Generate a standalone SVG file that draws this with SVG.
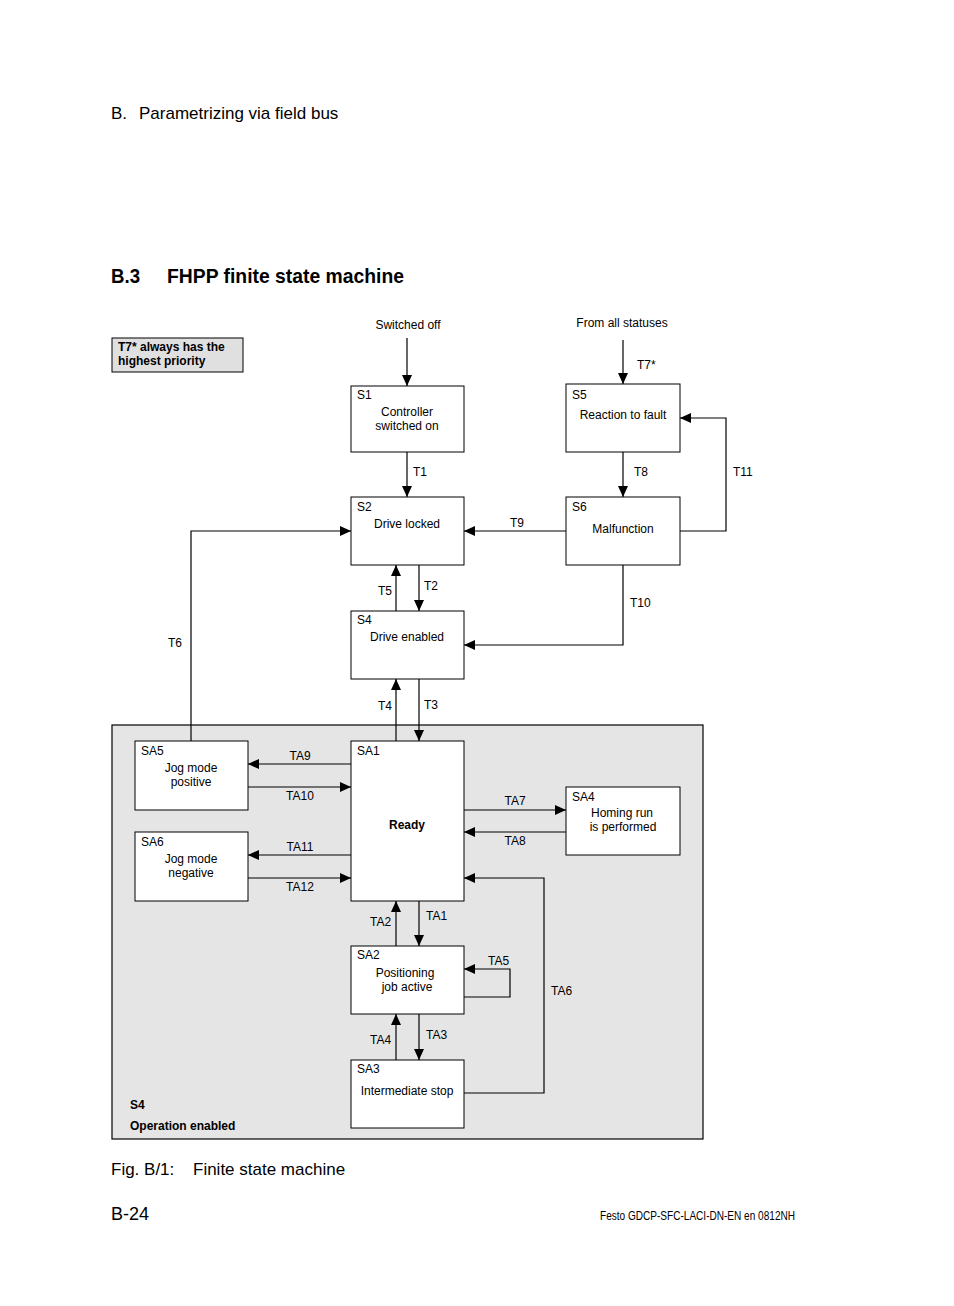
<svg xmlns="http://www.w3.org/2000/svg" width="954" height="1306" viewBox="0 0 954 1306">
<style>
text{font-family:"Liberation Sans",Arial,sans-serif;fill:#000}
.t{font-size:12px}
.c{text-anchor:middle}
.b{font-weight:bold}
.box{fill:#fff;stroke:#000;stroke-width:1}
.ln{fill:none;stroke:#000;stroke-width:1.2;marker-end:url(#ah)}
</style>
<defs>
<marker id="ah" markerUnits="userSpaceOnUse" markerWidth="12" markerHeight="10" refX="11" refY="5" orient="auto">
<path d="M0,0 L11,5 L0,10 Z" fill="#000"/>
</marker>
</defs>
<rect width="954" height="1306" fill="#fff"/>
<text x="111" y="119" font-size="17">B.</text>
<text x="139" y="119" font-size="17">Parametrizing via field bus</text>
<text x="111" y="283" font-size="21" class="b" textLength="29" lengthAdjust="spacingAndGlyphs">B.3</text>
<text x="167" y="283" font-size="21" class="b" textLength="237" lengthAdjust="spacingAndGlyphs">FHPP finite state machine</text>

<g id="note">
<rect x="112" y="338" width="131" height="34" fill="#e0e0e0" stroke="#000"/>
<text x="118" y="351" class="t b">T7* always has the</text>
<text x="118" y="365" class="t b">highest priority</text>
</g>

<g id="S4area">
<rect x="112" y="725" width="591" height="414" fill="#e5e5e5" stroke="#000" stroke-width="1.2"/>
<text x="130" y="1109" class="t b">S4</text>
<text x="130" y="1130" class="t b">Operation enabled</text>
</g>

<text x="408" y="329" class="t c">Switched off</text>
<text x="622" y="327" class="t c">From all statuses</text>

<g id="connectors">
<line x1="407" y1="338" x2="407" y2="386" class="ln"/>
<line x1="623" y1="340" x2="623" y2="384" class="ln"/>
<line x1="407" y1="452" x2="407" y2="497" class="ln"/>
<line x1="623" y1="452" x2="623" y2="497" class="ln"/>
<polyline points="680,531 726,531 726,418 680,418" class="ln"/>
<line x1="566" y1="531" x2="464" y2="531" class="ln"/>
<polyline points="623,565 623,645 464,645" class="ln"/>
<line x1="396" y1="611" x2="396" y2="565" class="ln"/>
<line x1="419" y1="565" x2="419" y2="611" class="ln"/>
<polyline points="191,741 191,531 351,531" class="ln"/>
<line x1="396" y1="741" x2="396" y2="679" class="ln"/>
<line x1="419" y1="679" x2="419" y2="741" class="ln"/>
<line x1="351" y1="764" x2="248" y2="764" class="ln"/>
<line x1="248" y1="787" x2="351" y2="787" class="ln"/>
<line x1="351" y1="855" x2="248" y2="855" class="ln"/>
<line x1="248" y1="878" x2="351" y2="878" class="ln"/>
<line x1="464" y1="810" x2="566" y2="810" class="ln"/>
<line x1="566" y1="832" x2="464" y2="832" class="ln"/>
<line x1="419" y1="901" x2="419" y2="946" class="ln"/>
<line x1="396" y1="946" x2="396" y2="901" class="ln"/>
<polyline points="464,997 510,997 510,969 464,969" class="ln"/>
<line x1="419" y1="1014" x2="419" y2="1060" class="ln"/>
<line x1="396" y1="1060" x2="396" y2="1014" class="ln"/>
<polyline points="464,1093 544,1093 544,878 464,878" class="ln"/>

<text x="413" y="476" class="t">T1</text>
<text x="637" y="369" class="t">T7*</text>
<text x="634" y="476" class="t">T8</text>
<text x="733" y="476" class="t">T11</text>
<text x="510" y="527" class="t">T9</text>
<text x="630" y="607" class="t">T10</text>
<text x="378" y="595" class="t">T5</text>
<text x="424" y="590" class="t">T2</text>
<text x="168" y="647" class="t">T6</text>
<text x="378" y="710" class="t">T4</text>
<text x="424" y="709" class="t">T3</text>
<text x="300" y="760" class="t c">TA9</text>
<text x="300" y="800" class="t c">TA10</text>
<text x="300" y="851" class="t c">TA11</text>
<text x="300" y="891" class="t c">TA12</text>
<text x="515" y="805" class="t c">TA7</text>
<text x="515" y="845" class="t c">TA8</text>
<text x="426" y="920" class="t">TA1</text>
<text x="370" y="926" class="t">TA2</text>
<text x="488" y="965" class="t">TA5</text>
<text x="426" y="1039" class="t">TA3</text>
<text x="370" y="1044" class="t">TA4</text>
<text x="551" y="995" class="t">TA6</text>
</g>

<g id="S1"><rect x="351" y="386" width="113" height="66" class="box"/>
<text x="357" y="399" class="t">S1</text>
<text x="407" y="416" class="t c">Controller</text>
<text x="407" y="430" class="t c">switched on</text></g>

<g id="S2"><rect x="351" y="497" width="113" height="68" class="box"/>
<text x="357" y="511" class="t">S2</text>
<text x="407" y="528" class="t c">Drive locked</text></g>

<g id="S5"><rect x="566" y="384" width="114" height="68" class="box"/>
<text x="572" y="399" class="t">S5</text>
<text x="623" y="419" class="t c">Reaction to fault</text></g>

<g id="S6"><rect x="566" y="497" width="114" height="68" class="box"/>
<text x="572" y="511" class="t">S6</text>
<text x="623" y="533" class="t c">Malfunction</text></g>

<g id="S4"><rect x="351" y="611" width="113" height="68" class="box"/>
<text x="357" y="624" class="t">S4</text>
<text x="407" y="641" class="t c">Drive enabled</text></g>

<g id="SA1"><rect x="351" y="741" width="113" height="160" class="box"/>
<text x="357" y="755" class="t">SA1</text>
<text x="407" y="829" class="t c b">Ready</text></g>

<g id="SA5"><rect x="135" y="741" width="113" height="69" class="box"/>
<text x="141" y="755" class="t">SA5</text>
<text x="191" y="772" class="t c">Jog mode</text>
<text x="191" y="786" class="t c">positive</text></g>

<g id="SA6"><rect x="135" y="832" width="113" height="69" class="box"/>
<text x="141" y="846" class="t">SA6</text>
<text x="191" y="863" class="t c">Jog mode</text>
<text x="191" y="877" class="t c">negative</text></g>

<g id="SA4"><rect x="566" y="787" width="114" height="68" class="box"/>
<text x="572" y="801" class="t">SA4</text>
<text x="622" y="817" class="t c">Homing run</text>
<text x="623" y="831" class="t c">is performed</text></g>

<g id="SA2"><rect x="351" y="946" width="113" height="68" class="box"/>
<text x="357" y="959" class="t">SA2</text>
<text x="405" y="977" class="t c">Positioning</text>
<text x="407" y="991" class="t c">job active</text></g>

<g id="SA3"><rect x="351" y="1060" width="113" height="68" class="box"/>
<text x="357" y="1073" class="t">SA3</text>
<text x="407" y="1095" class="t c">Intermediate stop</text></g>

<text x="111" y="1175" font-size="17">Fig. B/1:</text>
<text x="193" y="1175" font-size="17">Finite state machine</text>
<text x="111" y="1220" font-size="18">B-24</text>
<text x="600" y="1220" font-size="12" textLength="195" lengthAdjust="spacingAndGlyphs">Festo  GDCP-SFC-LACI-DN-EN  en 0812NH</text>
</svg>
